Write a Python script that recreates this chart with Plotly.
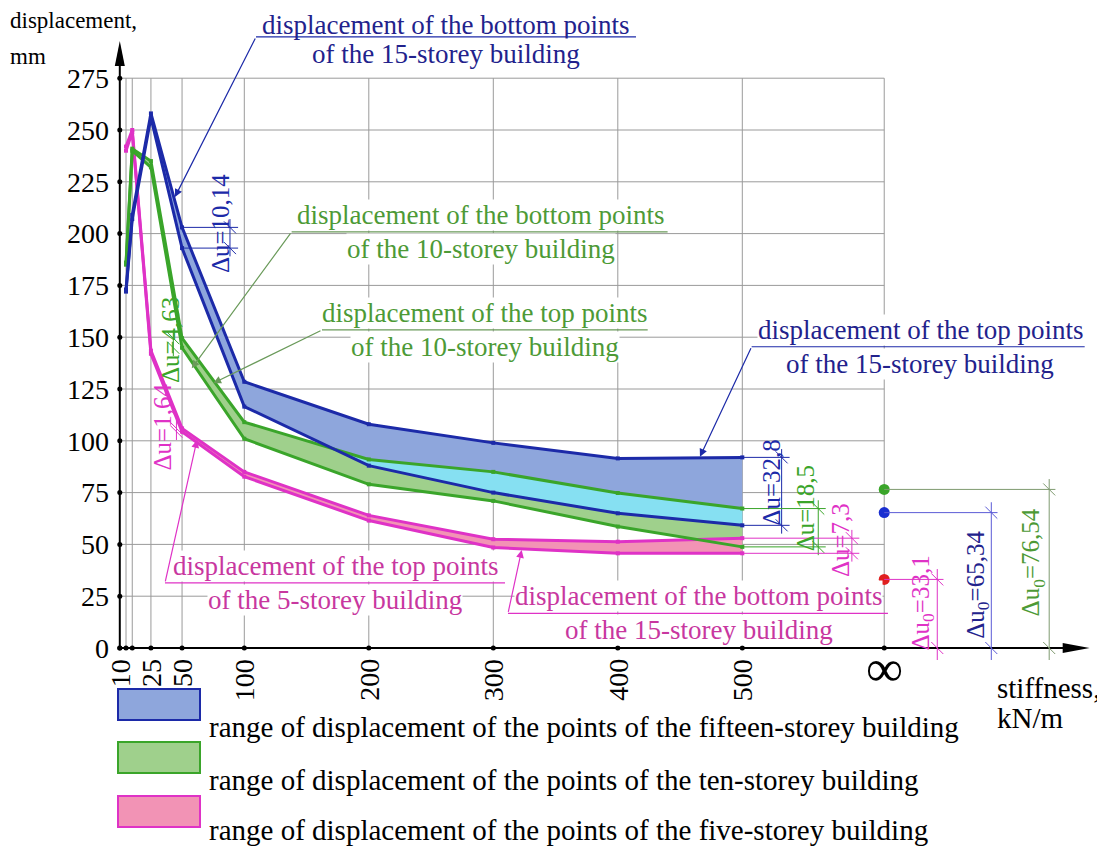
import numpy as np
import plotly.graph_objects as go

# ---------------- data ----------------
stiffness = [5, 10, 25, 50, 100, 200, 300, 400, 500]          # kN/m
b15_top = [173, 209, 258, 203, 128.5, 108, 99, 91.5, 92.0]    # 15-storey, upper line (mm)
b15_bot = [172, 207, 256, 193, 116.5, 88, 75, 65, 59.2]       # 15-storey, lower line
b10_top = [186, 241, 235, 149.5, 109, 91, 85, 74.8, 67.3]     # 10-storey, upper line
b10_bot = [185, 240, 232, 144.9, 101, 79, 71, 58.6, 48.8]     # 10-storey, lower line
b5_top = [242, 250, 143.5, 106.0, 85, 64, 52.5, 51.3, 53.0]   # 5-storey, upper line
b5_bot = [240, 249, 142, 104.4, 82.7, 61.5, 48.5, 45.7, 45.7] # 5-storey, lower line

inf_stiffness = 614                     # where the "infinity" tick sits on the axis
inf_values = [33.1, 65.34, 76.54]       # 5-, 15-, 10-storey at infinite stiffness
inf_labels = ["Δu<sub>0</sub>=33,1", "Δu<sub>0</sub>=65,34", "Δu<sub>0</sub>=76,54"]

du500_labels = ["Δu=32,8", "Δu=18,5", "Δu=7,3"]     # 15, 10, 5 storey at 500
du50_labels = ["Δu=10,14", "Δu=4,63", "Δu=1,64"]    # 15, 10, 5 storey at 50

y_ticks = [0, 25, 50, 75, 100, 125, 150, 175, 200, 225, 250, 275]
x_tick_vals = [10, 25, 50, 100, 200, 300, 400, 500]
x_tick_text = ["10", "25", "50", "100", "200", "300", "400", "500"]
x_grid = [5, 10, 25, 50, 100, 200, 300, 400, 500]

legend_text = [
    "range of displacement of the points of the fifteen-storey building",
    "range of displacement of the points of the ten-storey building",
    "range of displacement of the points of the five-storey building",
]

# ---------------- styling ----------------
FONT = "Liberation Serif"
BLUE, BLUE_T, BLUE_F = "#1c2aa8", "#22228c", "#8ea6dc"
GREEN, GREEN_T, GREEN_F = "#3aa52a", "#4d9a36", "#9fd08c"
MAG, MAG_T, MAG_F = "#df32c6", "#c8379f", "#f293b5"
CYAN_F = "#86e0f2"
GRID = "#9a9a9a"

PAGE_W, PAGE_H = 1105, 849
BODY = 8                                 # default page margin around the figure
W, H = PAGE_W - BODY, PAGE_H - BODY
PL, PR, PT, PB = 110, 1100, 8, 660       # plot-area box, in page pixels
X0PX, XSCALE = 119.8, 1.245              # page pixel of stiffness 0, px per kN/m
Y0PX, YSCALE = 648.0, 2.072              # page pixel of 0 mm, px per mm
xr = [(PL - X0PX) / XSCALE, (PR - X0PX) / XSCALE]
yr = [(Y0PX - PB) / YSCALE, (Y0PX - PT) / YSCALE]


def px(p):
    return (p - PL) / (PR - PL)


def py(p):
    return (PB - p) / (PB - PT)


fig = go.Figure()
shapes = []
ann = []

# ---------------- grid ----------------
for yv in y_ticks[1:]:
    shapes.append(dict(type="line", x0=0, x1=inf_stiffness, y0=yv, y1=yv,
                       line=dict(color=GRID, width=1), layer="below"))
for xv in x_grid:
    shapes.append(dict(type="line", x0=xv, x1=xv, y0=0, y1=y_ticks[-1],
                       line=dict(color=GRID, width=1), layer="below"))
shapes.append(dict(type="line", x0=inf_stiffness, x1=inf_stiffness, y0=0, y1=y_ticks[-1],
                   line=dict(color=GRID, width=1), layer="below"))

# ---------------- bands ----------------
def band(lo, hi, fill):
    fig.add_trace(go.Scatter(x=stiffness, y=lo, mode="lines", line=dict(width=0),
                             showlegend=False, hoverinfo="skip"))
    fig.add_trace(go.Scatter(x=stiffness, y=hi, mode="lines", line=dict(width=0),
                             fill="tonexty", fillcolor=fill, showlegend=False, hoverinfo="skip"))


band(b10_bot, b10_top, GREEN_F)
band(b15_bot, b15_top, BLUE_F)

# overlap of the 15- and 10-storey ranges (drawn cyan in the original)
xs = np.union1d(np.linspace(stiffness[0], stiffness[-1], 1200), stiffness)
hi15 = np.interp(xs, stiffness, np.maximum(b15_top, b15_bot))
lo15 = np.interp(xs, stiffness, np.minimum(b15_top, b15_bot))
hi10 = np.interp(xs, stiffness, np.maximum(b10_top, b10_bot))
lo10 = np.interp(xs, stiffness, np.minimum(b10_top, b10_bot))
ov_top = np.minimum(hi15, hi10)
ov_bot = np.maximum(lo15, lo10)
ov_top = np.maximum(ov_top, ov_bot)
fig.add_trace(go.Scatter(x=np.concatenate([xs, xs[::-1]]),
                         y=np.concatenate([ov_top, ov_bot[::-1]]),
                         mode="lines", line=dict(width=0), fill="toself",
                         fillcolor=CYAN_F, showlegend=False, hoverinfo="skip"))

band(b5_bot, b5_top, MAG_F)

for series, col in [(b5_top, MAG), (b5_bot, MAG), (b10_top, GREEN), (b10_bot, GREEN),
                    (b15_top, BLUE), (b15_bot, BLUE)]:
    fig.add_trace(go.Scatter(x=stiffness, y=series, mode="lines+markers",
                             line=dict(color=col, width=3),
                             marker=dict(symbol="square", size=4, color=col),
                             showlegend=False, hoverinfo="skip"))

# ---------------- axes drawn as arrows ----------------
Y_TIP, X_TIP = 293.0, 779.0
shapes.append(dict(type="line", x0=0, x1=0, y0=0, y1=Y_TIP - 5, line=dict(color="black", width=2)))
shapes.append(dict(type="line", x0=0, x1=X_TIP - 5, y0=0, y1=0, line=dict(color="black", width=2)))
shapes.append(dict(type="path", xsizemode="pixel", ysizemode="pixel", xanchor=0, yanchor=Y_TIP,
                   path="M0,0 L-5,-25 L5,-25 Z", fillcolor="black", line=dict(width=0)))
shapes.append(dict(type="path", xsizemode="pixel", ysizemode="pixel", xanchor=X_TIP, yanchor=0,
                   path="M0,0 L-27,5 L-27,-5 Z", fillcolor="black", line=dict(width=0)))

# tick dots
fig.add_trace(go.Scatter(x=[0] + x_grid + [inf_stiffness], y=[0] * (len(x_grid) + 2),
                         mode="markers", marker=dict(color="black", size=5),
                         showlegend=False, hoverinfo="skip", cliponaxis=False))
fig.add_trace(go.Scatter(x=[0] * len(y_ticks), y=y_ticks, mode="markers",
                         marker=dict(color="black", size=5),
                         showlegend=False, hoverinfo="skip", cliponaxis=False))

# x tick labels (the "10" label sits a little left of its tick in the original)
label_shift = {10: -12}
for v, t in zip(x_tick_vals, x_tick_text):
    ann.append(dict(x=v, y=py(657), xref="x", yref="paper", text=t, textangle=-90,
                    showarrow=False, xanchor="center", yanchor="top",
                    xshift=label_shift.get(v, 0),
                    font=dict(family=FONT, size=28, color="black")))

# ---------------- helpers for dimension marks ----------------
def tick(x, y, col):
    shapes.append(dict(type="line", xsizemode="pixel", ysizemode="pixel", xanchor=x, yanchor=y,
                       x0=-6, x1=6, y0=6, y1=-6, line=dict(color=col, width=1)))


def hline(x0, x1, y, col, w=1):
    shapes.append(dict(type="line", x0=x0, x1=x1, y0=y, y1=y, line=dict(color=col, width=w)))


def vline(x, y0, y1, col, w=1):
    shapes.append(dict(type="line", x0=x, x1=x, y0=y0, y1=y1, line=dict(color=col, width=w)))


def rot_text(x, y, text, col, size=25):
    ann.append(dict(x=x, y=y, text=text, textangle=-90, showarrow=False,
                    font=dict(family=FONT, size=size, color=col),
                    xanchor="center", yanchor="middle"))


# dimensions at stiffness 500
dims500 = [  # (top, bottom, line-x, ext-end, text-x, text-y, colour, label)
    (b15_top[-1], b15_bot[-1], 531.6, 538, 523.5, 79.6, BLUE, du500_labels[0]),
    (b10_top[-1], b10_bot[-1], 561.0, 567, 551.5, 67.6, GREEN, du500_labels[1]),
    (b5_top[-1], b5_bot[-1], 588.0, 594, 578.5, 52.1, MAG, du500_labels[2]),
]
for top, bot, lx, ext, tx, ty, col, lab in dims500:
    hline(stiffness[-1], ext, top, col)
    hline(stiffness[-1], ext, bot, col)
    vline(lx, bot - 4, top + 4, col)
    tick(lx, top, col)
    tick(lx, bot, col)
    rot_text(tx, ty, lab, col)

# dimensions at stiffness 50
i50 = stiffness.index(50)
dims50 = [
    (b15_top[i50], b15_bot[i50], 88.5, 95, 80.5, 204.6, BLUE, du50_labels[0], True),
    (b10_top[i50], b10_bot[i50], 43.0, 50, 40.3, 148.6, GREEN, du50_labels[1], False),
    (b5_top[i50], b5_bot[i50], 45.5, 50, 34.7, 106.4, MAG, du50_labels[2], False),
]
for top, bot, lx, ext, tx, ty, col, lab, right in dims50:
    if right:
        hline(stiffness[i50], ext, top, col)
        hline(stiffness[i50], ext, bot, col)
    vline(lx, bot - 4, top + 4, col)
    tick(lx, top, col)
    tick(lx, bot, col)
    rot_text(tx, ty, lab, col)

# dimensions at infinite stiffness
inf_cols = [MAG, "#5b5bd6", "#7f9a70"]
inf_dot_cols = ["#e02020", "#1a2fd0", GREEN]
inf_txt_cols = [MAG, BLUE_T, GREEN_T]
inf_dim_x = [656.6, 700.0, 746.5]
inf_txt_x = [644.4, 688.3, 733.0]
inf_txt_y = [21.5, 30.4, 41.5]
for v, c, lx, tx, ty, tc, lab in zip(inf_values, inf_cols, inf_dim_x, inf_txt_x, inf_txt_y,
                                      inf_txt_cols, inf_labels):
    hline(inf_stiffness, lx + 5, v, c)
    vline(lx, -6, v + 5, c)
    tick(lx, v, c)
    tick(lx, 0, c)
    rot_text(tx, ty, lab, tc)
fig.add_trace(go.Scatter(x=[inf_stiffness] * 3, y=inf_values, mode="markers",
                         marker=dict(color=inf_dot_cols, size=11),
                         showlegend=False, hoverinfo="skip"))

# ---------------- callouts ----------------
callouts = [  # colour, text colour, line1, line2, text-x, underline-y, ux0, ux1, tip-x, tip-y
    (BLUE, BLUE_T, "displacement of the bottom points", "of the 15-storey building",
     262, 294.9, 109.4, 414.6, 44.3, 217.7),
    ("#6a9a5a", GREEN_T, "displacement of the bottom points", "of the 10-storey building",
     290, 200.8, 138.0, 440.0, 57.8, 135.0),
    ("#6a9a5a", GREEN_T, "displacement of the top points", "of the 10-storey building",
     293, 153.5, 162.4, 424.0, 75.1, 127.8),
    (BLUE, BLUE_T, "displacement of the top points", "of the 15-storey building",
     643, 145.4, 507.5, 775.0, 466.0, 92.3),
    (MAG, MAG_T, "displacement of the top points", "of the 5-storey building",
     173, 31.4, 36.3, 309.4, 62.0, 100.4),
    (MAG, MAG_T, "displacement of the bottom points", "of the 15-storey building",
     465, 16.7, 311.8, 617.0, 322.8, 47.3),
]
for k, (lc, tc, l1, l2, tx, uy, ux0, ux1, tipx, tipy) in enumerate(callouts):
    top_row = (k == 0)   # the first callout sits at the very top edge
    ann.append(dict(x=tx, y=uy, text=l1, showarrow=False, xanchor="center", yanchor="bottom",
                    yshift=-4 if top_row else 1,
                    bgcolor="rgba(0,0,0,0)" if top_row else "white", borderpad=0,
                    font=dict(family=FONT, size=27, color=tc)))
    ann.append(dict(x=tx, y=uy, text=l2, showarrow=False, xanchor="center", yanchor="top",
                    yshift=-1, bgcolor="white", borderpad=0,
                    font=dict(family=FONT, size=27, color=tc)))
    hline(ux0, ux1, uy, lc, 1.2)
    ann.append(dict(x=tipx, y=tipy, ax=ux0, ay=uy, axref="x", ayref="y", text="",
                    showarrow=True, arrowhead=2, arrowsize=1.3, arrowwidth=1.2,
                    arrowcolor=lc, standoff=0))

# ---------------- axis titles / infinity ----------------
ann.append(dict(x=inf_stiffness, y=py(668), xref="x", yref="paper", text="∞", showarrow=False,
                xanchor="center", yanchor="middle", font=dict(family=FONT, size=52, color="black")))
ann.append(dict(x=px(BODY), y=py(20), xref="paper", yref="paper", text="displacement,",
                showarrow=False, xanchor="left", yanchor="middle",
                font=dict(family=FONT, size=23, color="black")))
ann.append(dict(x=px(BODY), y=py(56), xref="paper", yref="paper", text="mm",
                showarrow=False, xanchor="left", yanchor="middle",
                font=dict(family=FONT, size=23, color="black")))
ann.append(dict(x=px(995), y=py(688), xref="paper", yref="paper", text="stiffness,",
                showarrow=False, xanchor="left", yanchor="middle",
                font=dict(family=FONT, size=29, color="black")))
ann.append(dict(x=px(995), y=py(718), xref="paper", yref="paper", text="kN/m",
                showarrow=False, xanchor="left", yanchor="middle",
                font=dict(family=FONT, size=29, color="black")))

# ---------------- legend ----------------
leg_rows = [(BLUE_F, BLUE, 689, 720, 727), (GREEN_F, GREEN, 742, 773, 780),
            (MAG_F, MAG, 796, 827, 830)]
for (fc, bc, yt, yb, ty), txt in zip(leg_rows, legend_text):
    shapes.append(dict(type="rect", xref="paper", yref="paper", x0=px(118), x1=px(200),
                       y0=py(yb), y1=py(yt), fillcolor=fc, line=dict(color=bc, width=2)))
    ann.append(dict(x=px(207), y=py(ty), xref="paper", yref="paper", text=txt,
                    showarrow=False, xanchor="left", yanchor="middle",
                    font=dict(family=FONT, size=29, color="black")))

fig.update_layout(
    width=W, height=H,
    margin=dict(l=PL - BODY, r=W - (PR - BODY), t=PT - BODY, b=H - (PB - BODY)),
    plot_bgcolor="white", paper_bgcolor="white",
    showlegend=False,
    shapes=shapes, annotations=ann,
    xaxis=dict(range=xr, showticklabels=False,
               showgrid=False, zeroline=False, showline=False, ticks=""),
    yaxis=dict(range=yr, tickvals=y_ticks, ticktext=[str(v) for v in y_ticks],
               showgrid=False, zeroline=False, showline=False, ticks="",
               tickfont=dict(family=FONT, size=28, color="black")),
)

fig.write_html("out.html", config={"displayModeBar": False})
